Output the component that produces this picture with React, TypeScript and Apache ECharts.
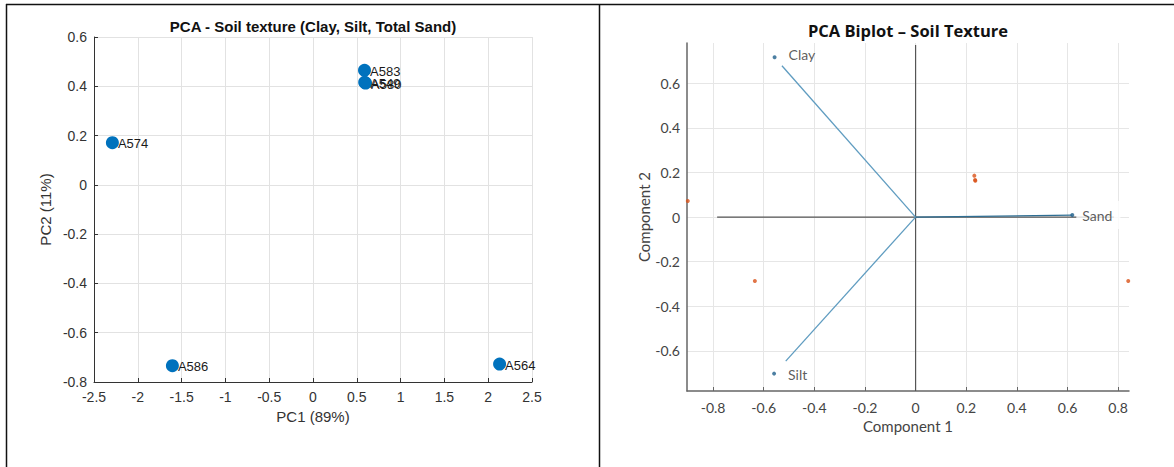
import React, { useEffect, useRef } from "react";
import * as echarts from "echarts";

// Left panel: PCA scores
const sampleNames = ["A574", "A586", "A564", "A583", "A549", "A580"];
const pc1Scores = [-2.29, -1.605, 2.13, 0.588, 0.59, 0.6];
const pc2Scores = [0.171, -0.734, -0.727, 0.465, 0.416, 0.413];

// Right panel: biplot loadings (tips) and drawn vector ends
const loadingNames = ["Clay", "Silt", "Sand"];
const loadingX = [-0.557, -0.559, 0.619];
const loadingY = [0.717, -0.702, 0.009];
const vectorEndX = [-0.528, -0.513, 0.619];
const vectorEndY = [0.679, -0.646, 0.009];

// Right panel: observation scores (scaled)
const obsX = [0.232, 0.235, 0.236, -0.9, -0.635, 0.84];
const obsY = [0.186, 0.166, 0.163, 0.072, -0.287, -0.287];

// Biplot reference axes
const refHorizontal = [-0.784, 0.784];
const refVertical = [-0.78, 0.772];

const biplotXTicks = [-0.8, -0.6, -0.4, -0.2, 0, 0.2, 0.4, 0.6, 0.8];
const biplotYTicks = [-0.6, -0.4, -0.2, 0, 0.2, 0.4, 0.6];

const LEFT_FONT = "'Liberation Sans', Arial, sans-serif";
const RIGHT_FONT = "Lato, 'Noto Sans', sans-serif";
const RIGHT_TITLE_FONT = "'Open Sans', Lato, sans-serif";

export default function App() {
  const ref = useRef<HTMLDivElement>(null);

  useEffect(() => {
    if (!ref.current) return;
    const chart = echarts.init(ref.current, undefined, { renderer: "svg" });

    const vectorSeries = loadingNames.map((n, i) => ({
      type: "line",
      xAxisIndex: 1,
      yAxisIndex: 1,
      symbol: "none",
      silent: true,
      z: 4,
      lineStyle: { color: i === 2 ? "#2f6f94" : "#5f9cc0", width: 1.3 },
      data: [
        [0, 0],
        [vectorEndX[i], vectorEndY[i]],
      ],
    }));

    const option: any = {
      animation: false,
      backgroundColor: "#ffffff",
      grid: [
        { left: 94, top: 37, width: 438, height: 345 },
        { left: 687, top: 43, width: 442, height: 348 },
      ],
      xAxis: [
        {
          gridIndex: 0,
          type: "value",
          min: -2.5,
          max: 2.5,
          interval: 0.5,
          name: "PC1 (89%)",
          nameLocation: "middle",
          nameGap: 26,
          nameTextStyle: { fontFamily: LEFT_FONT, fontSize: 15, color: "#333" },
          axisLine: { onZero: false, lineStyle: { color: "#333", width: 1 } },
          axisTick: { show: true, inside: true, length: 4, lineStyle: { color: "#333" } },
          axisLabel: { fontFamily: LEFT_FONT, fontSize: 14, color: "#333", margin: 8 },
          splitLine: { show: true, lineStyle: { color: "#e2e2e2", width: 1 } },
        },
        {
          gridIndex: 1,
          type: "value",
          min: -0.903,
          max: 0.843,
          name: "Component 1",
          nameLocation: "middle",
          nameGap: 27,
          nameTextStyle: { fontFamily: RIGHT_FONT, fontSize: 15, color: "#444" },
          axisLine: { onZero: false, lineStyle: { color: "#666", width: 1.5 } },
          axisTick: { show: true, inside: true, length: 4, customValues: biplotXTicks, lineStyle: { color: "#666" } },
          axisLabel: { fontFamily: RIGHT_FONT, fontSize: 14, color: "#444", margin: 9, customValues: biplotXTicks },
          splitLine: { show: true, lineStyle: { color: "#e6e6e6", width: 1 } },
        },
      ],
      yAxis: [
        {
          gridIndex: 0,
          type: "value",
          min: -0.8,
          max: 0.6,
          interval: 0.2,
          name: "PC2 (11%)",
          nameLocation: "middle",
          nameGap: 41,
          nameTextStyle: { fontFamily: LEFT_FONT, fontSize: 15, color: "#333" },
          axisLine: { show: true, onZero: false, lineStyle: { color: "#333", width: 1 } },
          axisTick: { show: true, inside: true, length: 4, lineStyle: { color: "#333" } },
          axisLabel: { fontFamily: LEFT_FONT, fontSize: 14, color: "#333", margin: 7 },
          splitLine: { show: true, lineStyle: { color: "#e2e2e2", width: 1 } },
        },
        {
          gridIndex: 1,
          type: "value",
          min: -0.78,
          max: 0.781,
          name: "Component 2",
          nameLocation: "middle",
          nameGap: 34,
          nameTextStyle: { fontFamily: RIGHT_FONT, fontSize: 15, color: "#444" },
          axisLine: { show: true, onZero: false, lineStyle: { color: "#666", width: 1.5 } },
          axisTick: { show: false, customValues: biplotYTicks },
          axisLabel: { fontFamily: RIGHT_FONT, fontSize: 14, color: "#444", margin: 7, customValues: biplotYTicks },
          splitLine: { show: true, lineStyle: { color: "#e6e6e6", width: 1 } },
        },
      ],
      series: [
        {
          type: "scatter",
          xAxisIndex: 0,
          yAxisIndex: 0,
          symbolSize: 13,
          itemStyle: { color: "#0072BD", opacity: 1 },
          label: {
            show: true,
            position: "right",
            distance: -1,
            offset: [0, 1],
            formatter: (p: any) => p.name,
            fontFamily: LEFT_FONT,
            fontSize: 13,
            color: "#1a1a1a",
          },
          data: sampleNames.map((n, i) => ({ name: n, value: [pc1Scores[i], pc2Scores[i]] })),
        },
        {
          type: "line",
          xAxisIndex: 1,
          yAxisIndex: 1,
          symbol: "none",
          silent: true,
          z: 3,
          lineStyle: { color: "#555", width: 1.2 },
          data: [
            [refHorizontal[0], 0],
            [refHorizontal[1], 0],
          ],
        },
        {
          type: "line",
          xAxisIndex: 1,
          yAxisIndex: 1,
          symbol: "none",
          silent: true,
          z: 3,
          lineStyle: { color: "#555", width: 1.2 },
          data: [
            [0, refVertical[0]],
            [0, refVertical[1]],
          ],
        },
        ...vectorSeries,
        {
          type: "scatter",
          xAxisIndex: 1,
          yAxisIndex: 1,
          clip: false,
          symbolSize: 4,
          z: 5,
          itemStyle: { color: "#D95319" },
          data: obsX.map((x, i) => [x, obsY[i]]),
        },
        {
          type: "scatter",
          xAxisIndex: 1,
          yAxisIndex: 1,
          clip: false,
          symbolSize: 4,
          z: 6,
          itemStyle: { color: "#1f5f8b" },
          label: {
            show: true,
            position: "right",
            formatter: (p: any) => p.name,
            fontFamily: RIGHT_FONT,
            fontSize: 14,
            color: "#333",
          },
          data: loadingNames.map((n, i) => ({
            name: n,
            value: [loadingX[i], loadingY[i]],
            label:
              i === 2
                ? { distance: 2, offset: [0, 0], backgroundColor: "#ffffff", padding: [7, 8, 7, 6] }
                : i === 0
                ? { distance: 12, offset: [0, -3] }
                : { distance: 12, offset: [0, 1] },
          })),
        },
      ],
      graphic: [
        {
          type: "text",
          x: 313,
          y: 26,
          style: {
            text: "PCA - Soil texture (Clay, Silt, Total Sand)",
            align: "center",
            verticalAlign: "middle",
            font: `bold 15px ${LEFT_FONT}`,
            fill: "#111",
          },
        },
        {
          type: "text",
          x: 908,
          y: 30,
          style: {
            text: "PCA Biplot – Soil Texture",
            align: "center",
            verticalAlign: "middle",
            font: `bold 16.5px ${RIGHT_TITLE_FONT}`,
            fill: "#111",
          },
        },
        { type: "line", shape: { x1: 6, y1: 4.5, x2: 1174, y2: 4.5 }, style: { stroke: "#111", lineWidth: 1.5 } },
        { type: "line", shape: { x1: 6.5, y1: 4, x2: 6.5, y2: 467 }, style: { stroke: "#111", lineWidth: 1.5 } },
        { type: "line", shape: { x1: 599.5, y1: 4, x2: 599.5, y2: 467 }, style: { stroke: "#111", lineWidth: 1.5 } },
      ],
    };

    chart.setOption(option);
    return () => chart.dispose();
  }, []);

  return (
    <div
      ref={ref}
      style={{ position: "fixed", left: 0, top: 0, width: 1174, height: 467, background: "#fff" }}
    />
  );
}
